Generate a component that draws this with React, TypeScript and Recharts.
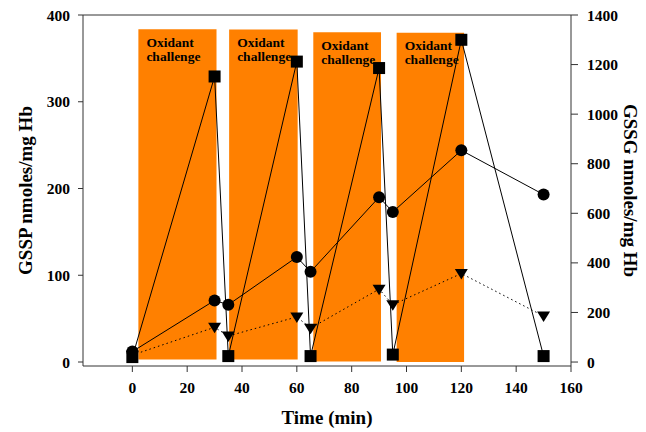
import { ComposedChart, Line, XAxis, YAxis, ReferenceArea, ReferenceLine } from 'recharts'

// sampling times (min)
const times = [0, 30, 35, 60, 65, 90, 95, 120, 150]
// GSSG (right axis), squares
const gssgSquares = [20, 1152, 24, 1212, 24, 1186, 30, 1300, 24]
// GSSP (left axis), circles and triangles
const gsspCircles = [12, 71, 66, 121, 104, 190, 173, 244, 193]
const gsspTriangles = [8, 40, 30, 52, 39, 84, 66, 102, 53]

// oxidant challenge windows
const challengeStart = [2.2, 35.3, 66, 96.4]
const challengeEnd = [30.7, 60.3, 90.7, 121]
const challengeTop = [383.5, 383.3, 380, 379.6]
const challengeBottom = [3, 3, 0.5, 0]

const xTicks = [0, 20, 40, 60, 80, 100, 120, 140, 160]
const leftTicks = [0, 100, 200, 300, 400]
const rightTicks = [0, 200, 400, 600, 800, 1000, 1200, 1400]

const FONT = '"Liberation Serif", "Times New Roman", serif'
const ORANGE = '#FF8000'
const INK = '#000'
const AXIS = '#333'

const data = times.map((t, i) => ({
  time: t,
  gssg: gssgSquares[i],
  circles: gsspCircles[i],
  triangles: gsspTriangles[i],
}))

const tickStyle = { fontFamily: FONT, fontSize: 15.5, fontWeight: 'bold', fill: INK }

const SquareDot = (p: any) => (
  <rect key={`sq-${p.index}`} x={p.cx - 6} y={p.cy - 6} width={12} height={12} fill={INK} />
)
const CircleDot = (p: any) => <circle key={`ci-${p.index}`} cx={p.cx} cy={p.cy} r={6} fill={INK} />
const TriangleDot = (p: any) => (
  <polygon
    key={`tr-${p.index}`}
    points={`${p.cx - 6.5},${p.cy - 4.5} ${p.cx + 6.5},${p.cy - 4.5} ${p.cx},${p.cy + 6}`}
    fill={INK}
  />
)

const challengeLabel = (props: any) => {
  const { x, y } = props.viewBox
  return (
    <text x={x + 8} y={y + 17.5} fontFamily={FONT} fontSize={13.5} fontWeight="bold" fill={INK}>
      <tspan x={x + 8}>Oxidant</tspan>
      <tspan x={x + 8} dy={14}>challenge</tspan>
    </text>
  )
}

const leftTitle = (props: any) => {
  const { y, height } = props.viewBox
  const cy = y + height / 2
  return (
    <text x={25} y={cy} transform={`rotate(-90 25 ${cy})`} textAnchor="middle" dominantBaseline="central"
      fontFamily={FONT} fontSize={19} fontWeight="bold" fill={INK}>
      GSSP nmoles/mg Hb
    </text>
  )
}

const rightTitle = (props: any) => {
  const { y, height } = props.viewBox
  const cy = y + height / 2
  return (
    <text x={630} y={cy} transform={`rotate(90 630 ${cy})`} textAnchor="middle" dominantBaseline="central"
      fontFamily={FONT} fontSize={19} fontWeight="bold" fill={INK}>
      GSSG nmoles/mg Hb
    </text>
  )
}

const bottomTitle = (props: any) => {
  const { x, width } = props.viewBox
  return (
    <text x={x + width / 2} y={424} textAnchor="middle"
      fontFamily={FONT} fontSize={19} fontWeight="bold" fill={INK}>
      Time (min)
    </text>
  )
}

export default function App() {
  return (
    <div style={{ position: 'absolute', left: 0, top: 0, background: '#fff' }}>
      <ComposedChart width={646} height={432} data={data} margin={{ top: 15, right: 0, bottom: 0, left: 0 }}>
        <XAxis
          dataKey="time"
          type="number"
          domain={[-18, 160]}
          ticks={xTicks}
          allowDataOverflow
          height={66}
          stroke={AXIS}
          tickSize={6}
          tickMargin={10}
          tick={tickStyle}
          label={{ content: bottomTitle }}
        />
        <YAxis
          yAxisId="left"
          domain={[-4.6, 400]}
          ticks={leftTicks}
          allowDataOverflow
          width={83}
          stroke={AXIS}
          tickSize={5}
          tickMargin={8}
          tick={tickStyle}
          label={{ content: leftTitle }}
        />
        <YAxis
          yAxisId="right"
          orientation="right"
          domain={[-16, 1400]}
          ticks={rightTicks}
          allowDataOverflow
          width={75}
          stroke={AXIS}
          tickSize={7}
          tickMargin={9}
          tick={{ ...tickStyle, textAnchor: 'start' }}
          label={{ content: rightTitle }}
        />
        {challengeStart.map((s, i) => (
          <ReferenceArea
            key={`ch-${i}`}
            yAxisId="left"
            x1={s}
            x2={challengeEnd[i]}
            y1={challengeBottom[i]}
            y2={challengeTop[i]}
            fill={ORANGE}
            fillOpacity={1}
            stroke="none"
            label={challengeLabel}
          />
        ))}
        <ReferenceLine yAxisId="left" y={400} stroke={AXIS} />
        <Line
          yAxisId="left"
          dataKey="triangles"
          type="linear"
          stroke={INK}
          strokeWidth={1}
          strokeDasharray="1.5 3"
          dot={TriangleDot}
          isAnimationActive={false}
        />
        <Line
          yAxisId="left"
          dataKey="circles"
          type="linear"
          stroke={INK}
          strokeWidth={1}
          dot={CircleDot}
          isAnimationActive={false}
        />
        <Line
          yAxisId="right"
          dataKey="gssg"
          type="linear"
          stroke={INK}
          strokeWidth={1}
          dot={SquareDot}
          isAnimationActive={false}
        />
      </ComposedChart>
    </div>
  )
}
